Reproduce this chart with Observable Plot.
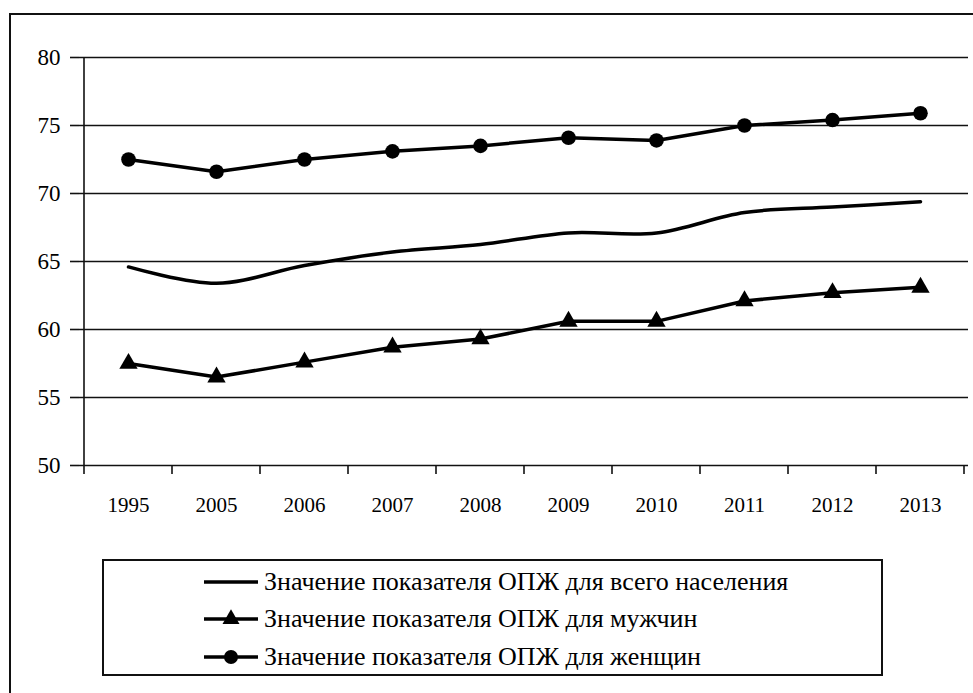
<!DOCTYPE html>
<html>
<head>
<meta charset="utf-8">
<script src="https://cdn.jsdelivr.net/npm/d3@7"></script>
<script src="https://cdn.jsdelivr.net/npm/@observablehq/plot@0.6"></script>
<style>
  body { margin: 0; background: #fff; }
  #wrap { position: relative; width: 973px; height: 693px; overflow: hidden; background: #fff; font-family: "Liberation Serif", "Liberation Sans", Arial, sans-serif; }
  #outer { position: absolute; left: 9px; top: 13px; width: 1200px; height: 1200px; border-top: 2px solid #111; border-left: 2px solid #111; pointer-events: none; }
  #legend { position: absolute; left: 102px; top: 559px; width: 777px; height: 113px; border: 2px solid #111; background: #fff; }
  .row { position: absolute; left: 0; height: 30px; }
  .row svg { position: absolute; left: 99px; top: 5px; }
  .row span { position: absolute; left: 160px; white-space: nowrap; font-size: 26px; color: #000; line-height: 30px; top: 0; }
</style>
</head>
<body>
<div id="wrap">
  <div id="chart"></div>
  <div id="legend"></div>
  <div id="outer"></div>
</div>
<script>
const years = ["1995", "2005", "2006", "2007", "2008", "2009", "2010", "2011", "2012", "2013"];
const totalValues = [64.6, 63.4, 64.7, 65.7, 66.25, 67.1, 67.1, 68.6, 69.0, 69.4];
const menValues = [57.5, 56.5, 57.6, 58.7, 59.3, 60.6, 60.6, 62.1, 62.7, 63.1];
const womenValues = [72.5, 71.6, 72.5, 73.1, 73.5, 74.1, 73.9, 75.0, 75.4, 75.9];
const yTicks = [50, 55, 60, 65, 70, 75, 80];
const seriesLabels = [
  "Значение показателя ОПЖ для всего населения",
  "Значение показателя ОПЖ для мужчин",
  "Значение показателя ОПЖ для женщин"
];

const total = years.map((y, i) => ({year: y, value: totalValues[i]}));
const men = years.map((y, i) => ({year: y, value: menValues[i]}));
const women = years.map((y, i) => ({year: y, value: womenValues[i]}));

// tick marks at the band boundaries and the left axis line
function bandFrame(index, scales, values, dimensions) {
  const x = scales.x, y = scales.y;
  const g = d3.create("svg:g").attr("stroke", "#111").attr("stroke-width", 1.6);
  const bounds = years.map(d => x(d)).concat([x(years[years.length - 1]) + x.bandwidth()]);
  g.selectAll("line.t").data(bounds).join("line")
    .attr("x1", d => d).attr("x2", d => d)
    .attr("y1", y(50)).attr("y2", y(50) + 9);
  g.append("line")
    .attr("x1", x(years[0])).attr("x2", x(years[0]))
    .attr("y1", y(80)).attr("y2", y(50));
  return g.node();
}

const chart = Plot.plot({
  width: 973,
  height: 540,
  marginLeft: 79,
  marginRight: 5,
  marginTop: 57,
  marginBottom: 75,
  style: {fontFamily: "'Liberation Serif', 'Liberation Sans', Arial, sans-serif", fontSize: "23px", background: "transparent", color: "#000"},
  x: {type: "band", domain: years, paddingInner: 0, paddingOuter: 0},
  y: {domain: [50, 80]},
  marks: [
    Plot.ruleY(yTicks, {stroke: "#111", strokeWidth: 1.6}),
    bandFrame,
    Plot.axisY(yTicks, {tickSize: 9, tickPadding: 10, stroke: "#111", strokeWidth: 1.6, label: null, fontSize: 23}),
    Plot.axisX(years, {tickSize: 0, tickPadding: 32, label: null, fontSize: 21}),
    Plot.line(total, {x: "year", y: "value", curve: "catmull-rom", stroke: "#000", strokeWidth: 3.5}),
    Plot.line(men, {x: "year", y: "value", stroke: "#000", strokeWidth: 3.5}),
    Plot.dot(men, {x: "year", y: "value", symbol: "triangle", r: 6.8, fill: "#000", stroke: "none"}),
    Plot.line(women, {x: "year", y: "value", stroke: "#000", strokeWidth: 3.5}),
    Plot.dot(women, {x: "year", y: "value", symbol: "circle", r: 7.3, fill: "#000", stroke: "none"})
  ]
});
document.getElementById("chart").appendChild(chart);

// legend
const legend = d3.select("#legend");
const rowTops = [6, 43, 81];
const markers = [null, "triangle", "circle"];
seriesLabels.forEach((label, i) => {
  const row = legend.append("div").attr("class", "row").style("top", rowTops[i] + "px");
  const svg = row.append("svg").attr("width", 56).attr("height", 20);
  svg.append("line").attr("x1", 1).attr("x2", 55).attr("y1", 10).attr("y2", 10)
    .attr("stroke", "#000").attr("stroke-width", 3.5);
  if (markers[i] === "triangle") {
    svg.append("path").attr("transform", "translate(28,10)")
      .attr("d", d3.symbol(d3.symbolTriangle, 125)()).attr("fill", "#000");
  } else if (markers[i] === "circle") {
    svg.append("circle").attr("cx", 28).attr("cy", 10).attr("r", 7).attr("fill", "#000");
  }
  row.append("span").text(label);
});
</script>
</body>
</html>
